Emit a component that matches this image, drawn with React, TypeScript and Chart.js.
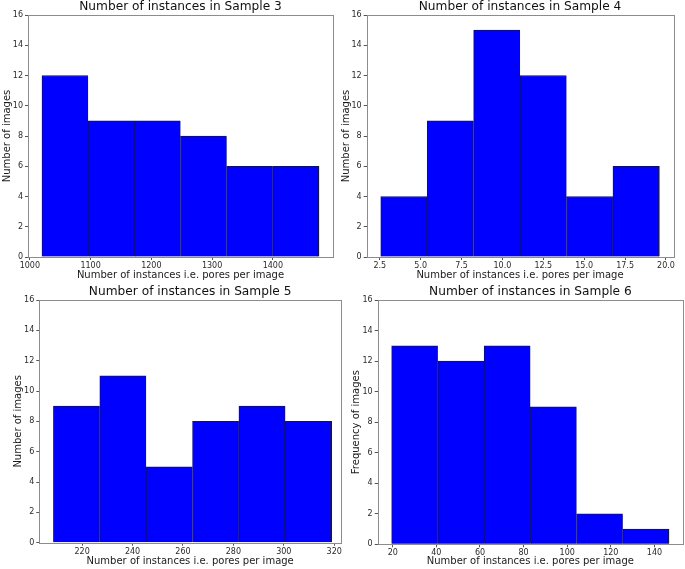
import React, { useEffect, useRef } from "react";
import { Chart, registerables } from "chart.js";
Chart.register(...registerables);

const W = 685;
const H = 569;
const FONT = "'DejaVu Sans', 'Liberation Sans', sans-serif";

// ---- Sample 3 ----
const s3Edges = [1020, 1096, 1172, 1248, 1324, 1400, 1476];
const s3Counts = [12, 9, 9, 8, 6, 6];
const s3Ticks = [1000, 1100, 1200, 1300, 1400];
const s3Range = [997, 1499];

// ---- Sample 4 ----
const s4Edges = [2.56, 5.4, 8.24, 11.08, 13.92, 16.76, 19.6];
const s4Counts = [4, 9, 15, 12, 4, 6];
const s4Ticks = [2.5, 5.0, 7.5, 10.0, 12.5, 15.0, 17.5, 20.0];
const s4Range = [1.7, 20.45];

// ---- Sample 5 ----
const s5Edges = [208.6, 227, 245.4, 263.8, 282.2, 300.6, 319];
const s5Counts = [9, 11, 5, 8, 9, 8];
const s5Ticks = [220, 240, 260, 280, 300, 320];
const s5Range = [203, 322.7];

// ---- Sample 6 ----
const s6Edges = [19.5, 40.7, 61.9, 83.1, 104.3, 125.5, 146.7];
const s6Counts = [13, 12, 13, 9, 2, 1];
const s6Ticks = [20, 40, 60, 80, 100, 120, 140];
const s6Range = [13.1, 153.1];

const yTicks = [0, 2, 4, 6, 8, 10, 12, 14, 16];
const xTitle = "Number of instances i.e. pores per image";

const PANELS = [
  {
    title: "Number of instances in Sample 3",
    yTitle: "Number of images",
    edges: s3Edges, counts: s3Counts, xTicks: s3Ticks, range: s3Range, decimals: 0,
    area: { left: 28, top: 15, right: 333, bottom: 257 }, xH: 24.3, yW: 27,
  },
  {
    title: "Number of instances in Sample 4",
    yTitle: "Number of images",
    edges: s4Edges, counts: s4Counts, xTicks: s4Ticks, range: s4Range, decimals: 1,
    area: { left: 366.7, top: 15, right: 673.3, bottom: 257 }, xH: 24.3, yW: 26,
  },
  {
    title: "Number of instances in Sample 5",
    yTitle: "Number of images",
    edges: s5Edges, counts: s5Counts, xTicks: s5Ticks, range: s5Range, decimals: 0,
    area: { left: 39.3, top: 300, right: 341, bottom: 542.7 }, xH: 24.3, yW: 27,
  },
  {
    title: "Number of instances in Sample 6",
    yTitle: "Frequency of images",
    edges: s6Edges, counts: s6Counts, xTicks: s6Ticks, range: s6Range, decimals: 0,
    area: { left: 377.7, top: 300, right: 683, bottom: 544.3 }, xH: 23.4, yW: 27.7,
  },
];

const framePlugin = {
  id: "frameAndTitle",
  afterDraw(chart: any, _args: any, opts: any) {
    const { ctx, chartArea } = chart;
    ctx.save();
    ctx.strokeStyle = "#8c8c8c";
    ctx.lineWidth = 1;
    ctx.strokeRect(
      Math.round(chartArea.left) + 0.5,
      Math.round(chartArea.top) + 0.5,
      Math.round(chartArea.right - chartArea.left),
      Math.round(chartArea.bottom - chartArea.top)
    );
    ctx.fillStyle = "#111";
    ctx.font = `12.2px ${FONT}`;
    ctx.textAlign = "center";
    ctx.textBaseline = "middle";
    ctx.fillText(opts.text, (chartArea.left + chartArea.right) / 2, chartArea.top - 8);
    ctx.restore();
  },
};

function HistPanel({ p }: { p: any }) {
  const ref = useRef<HTMLCanvasElement | null>(null);
  useEffect(() => {
    if (!ref.current) return;
    const last = p.counts.length - 1;
    const data = p.counts.map((c: number, i: number) => ({
      x: (p.edges[i] + p.edges[i + 1]) / 2,
      y: c,
    }));
    const chart = new Chart(ref.current, {
      type: "bar",
      data: {
        datasets: [
          {
            data,
            backgroundColor: "#0000ff",
            borderColor: "#1a1a1a",
            borderWidth: (ctx: any) => ({
              top: 1,
              left: 1,
              right: ctx.dataIndex === last ? 1 : 0,
              bottom: 0,
            }),
            borderSkipped: false,
            barThickness: "flex",
            barPercentage: 1,
            categoryPercentage: 1,
          } as any,
        ],
      },
      options: {
        responsive: false,
        animation: false,
        devicePixelRatio: 1,
        layout: {
          padding: {
            left: p.area.left - p.yW,
            top: p.area.top,
            right: W - p.area.right,
            bottom: H - p.area.bottom - p.xH,
          },
        },
        plugins: {
          legend: { display: false },
          tooltip: { enabled: false },
          title: { display: false },
          frameAndTitle: { text: p.title },
        } as any,
        scales: {
          x: {
            type: "linear",
            min: p.range[0],
            max: p.range[1],
            offset: false,
            grid: {
              offset: false,
              drawOnChartArea: false,
              drawTicks: true,
              tickLength: 3,
              tickColor: "#555",
            },
            border: { display: false },
            afterBuildTicks: (scale: any) => {
              scale.ticks = p.xTicks.map((v: number) => ({ value: v }));
            },
            afterFit: (scale: any) => {
              scale.height = p.xH;
            },
            ticks: {
              autoSkip: false,
              maxRotation: 0,
              padding: 1,
              color: "#2a2a2a",
              font: { family: FONT, size: 8 },
              callback: (v: any) => Number(v).toFixed(p.decimals),
            },
            title: {
              display: true,
              text: xTitle,
              color: "#1a1a1a",
              padding: { top: 0, bottom: 0 },
              font: { family: FONT, size: 10 },
            },
          },
          y: {
            type: "linear",
            min: 0,
            max: 16,
            grid: {
              drawOnChartArea: false,
              drawTicks: true,
              tickLength: 3,
              tickColor: "#555",
            },
            border: { display: false },
            afterBuildTicks: (scale: any) => {
              scale.ticks = yTicks.map((v) => ({ value: v }));
            },
            afterFit: (scale: any) => {
              scale.width = p.yW;
            },
            ticks: {
              padding: 2,
              color: "#2a2a2a",
              font: { family: FONT, size: 8 },
            },
            title: {
              display: true,
              text: p.yTitle,
              color: "#1a1a1a",
              padding: { top: 0, bottom: 0 },
              font: { family: FONT, size: 10 },
            },
          },
        },
      } as any,
      plugins: [framePlugin],
    });
    return () => chart.destroy();
  }, [p]);
  return (
    <canvas
      ref={ref}
      width={W}
      height={H}
      style={{ position: "absolute", left: 0, top: 0, width: W, height: H }}
    />
  );
}

export default function App() {
  return (
    <div
      style={{
        position: "absolute",
        left: 0,
        top: 0,
        width: W,
        height: H,
        background: "#fff",
      }}
    >
      {PANELS.map((p, i) => (
        <HistPanel key={i} p={p} />
      ))}
    </div>
  );
}
